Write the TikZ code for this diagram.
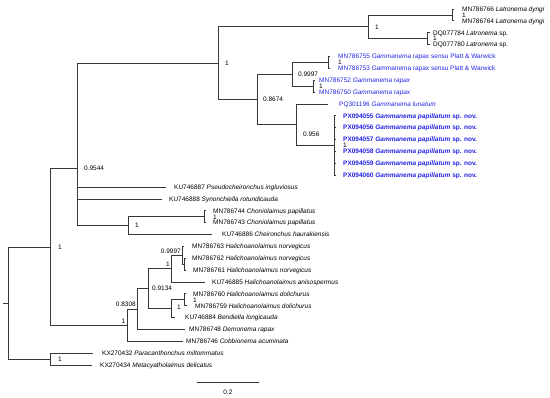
\documentclass[tikz,border=0pt]{standalone}
\usepackage{fontspec}
\setmainfont{Liberation Sans}
\definecolor{gblue}{RGB}{35,35,230}
\definecolor{branch}{RGB}{55,55,55}
\begin{document}
\begin{tikzpicture}[x=1pt,y=-1pt,
  br/.style={draw=branch, line width=0.8pt},
  lab/.style={anchor=base west, inner sep=0pt, yshift=-2.3pt, font=\fontsize{6.5}{7}\selectfont},
  blab/.style={lab, text=gblue},
  supp/.style={lab},
  suppl/.style={anchor=base east, inner sep=0pt, font=\fontsize{6.5}{7}\selectfont},
]
\useasboundingbox (0,0) rectangle (550,398);
% ---------- internal nodes ----------
\coordinate (nR) at (8,303.06);
\coordinate (nA) at (50,246.96);
\coordinate (nB) at (50,359.17);
\coordinate (nC) at (77,168.69);
\coordinate (nD) at (218,63.16);
\coordinate (nE) at (368,26.81);
\coordinate (nP1) at (452,14.94);
\coordinate (nP2) at (427,38.68);
\coordinate (nF) at (257,99.51);
\coordinate (nG) at (292,74.29);
\coordinate (nP3) at (328,62.42);
\coordinate (nP4) at (313,86.16);
\coordinate (nH) at (296,124.73);
\coordinate (nQ) at (334,145.5);
\coordinate (nI) at (128,225.63);
\coordinate (nP5) at (204,216.73);
\coordinate (nJ) at (127,325.23);
\coordinate (nK) at (137,309.09);
\coordinate (nL) at (148,288.69);
\coordinate (nM) at (171,268.66);
\coordinate (nO) at (182,255.3);
\coordinate (nO2) at (184.5,264.2);
\coordinate (nN) at (171,308.71);
\coordinate (nP) at (184,299.8);
% ---------- tips ----------
\coordinate (t0) at (454,9.0);
\coordinate (t1) at (454,20.87);
\coordinate (t2) at (429.5,32.74);
\coordinate (t3) at (429.5,44.61);
\coordinate (t4) at (330,56.48);
\coordinate (t5) at (330,68.35);
\coordinate (t6) at (315,80.22);
\coordinate (t7) at (315,92.09);
\coordinate (t8) at (328,103.96);
\coordinate (t9) at (335.5,115.83);
\coordinate (t10) at (335.5,127.7);
\coordinate (t11) at (335.5,139.57);
\coordinate (t12) at (335.5,151.44);
\coordinate (t13) at (335.5,163.31);
\coordinate (t14) at (335.5,175.18);
\coordinate (t15) at (166,187.05);
\coordinate (t16) at (162,198.92);
\coordinate (t17) at (206,210.79);
\coordinate (t18) at (206,222.66);
\coordinate (t19) at (212,234.53);
\coordinate (t20) at (184,246.4);
\coordinate (t21) at (186,258.27);
\coordinate (t22) at (186,270.14);
\coordinate (t23) at (205,282.01);
\coordinate (t24) at (186,293.88);
\coordinate (t25) at (187,305.75);
\coordinate (t26) at (175,317.62);
\coordinate (t27) at (185,329.49);
\coordinate (t28) at (183,341.36);
\coordinate (t29) at (93,353.23);
\coordinate (t30) at (92,365.1);
% ---------- branches ----------
\draw[br] (3,303.06) -- (nR);
\draw[br] (nR) |- (nA);
\draw[br] (nR) |- (nB);
\draw[br] (nB) |- (t29);
\draw[br] (nB) |- (t30);
\draw[br] (nA) |- (nC);
\draw[br] (nA) |- (nJ);
\draw[br] (nC) |- (nD);
\draw[br] (nC) |- (t15);
\draw[br] (nC) |- (t16);
\draw[br] (nC) |- (nI);
\draw[br] (nD) |- (nE);
\draw[br] (nD) |- (nF);
\draw[br] (nE) |- (nP1);
\draw[br] (nE) |- (nP2);
\draw[br] (nP1) |- (t0);
\draw[br] (nP1) |- (t1);
\draw[br] (nP2) |- (t2);
\draw[br] (nP2) |- (t3);
\draw[br] (nF) |- (nG);
\draw[br] (nF) |- (nH);
\draw[br] (nG) |- (nP3);
\draw[br] (nG) |- (nP4);
\draw[br] (nP3) |- (t4);
\draw[br] (nP3) |- (t5);
\draw[br] (nP4) |- (t6);
\draw[br] (nP4) |- (t7);
\draw[br] (nH) |- (t8);
\draw[br] (nH) |- (nQ);
\foreach \i in {9,...,14} {\draw[br] (nQ) |- (t\i);}
\draw[br] (nI) |- (nP5);
\draw[br] (nI) |- (t19);
\draw[br] (nP5) |- (t17);
\draw[br] (nP5) |- (t18);
\draw[br] (nJ) |- (nK);
\draw[br] (nJ) |- (t28);
\draw[br] (nK) |- (nL);
\draw[br] (nK) |- (t27);
\draw[br] (nL) |- (nM);
\draw[br] (nL) |- (nN);
\draw[br] (nM) |- (nO);
\draw[br] (nM) |- (t23);
\draw[br] (nO) |- (t20);
\draw[br] (nO) |- (nO2);
\draw[br] (nO2) |- (t21);
\draw[br] (nO2) |- (t22);
\draw[br] (nN) |- (nP);
\draw[br] (nN) |- (t26);
\draw[br] (nP) |- (t24);
\draw[br] (nP) |- (t25);
% ---------- leaf labels ----------
\node[lab] (l0) at (462,9.0) {MN786766 \textit{Latronema dyngi}};
\node[lab] (l1) at (462,20.87) {MN786764 \textit{Latronema dyngi}};
\node[lab] (l2) at (433,32.74) {DQ077784 \textit{Latronema} sp.};
\node[lab] (l3) at (433,44.61) {DQ077780 \textit{Latronema} sp.};
\node[blab] (l4) at (338,56.48) {MN786755 \textit{Gammanema rapax} sensu Platt \& Warwick};
\node[blab] (l5) at (338,68.35) {MN786753 Gammanema rapax sensu Platt \& Warwick};
\node[blab] (l6) at (319,80.22) {MN786752 \textit{Gammanema rapax}};
\node[blab] (l7) at (319,92.09) {MN786750 \textit{Gammanema rapax}};
\node[blab] (l8) at (339,103.96) {PQ301196 \textit{Gammanema lunatum}};
\node[blab] (l9) at (343,115.83) {\textbf{PX094055 \textit{Gammanema papillatum} sp. nov.}};
\node[blab] (l10) at (343,127.7) {\textbf{PX094056 \textit{Gammanema papillatum} sp. nov.}};
\node[blab] (l11) at (343,139.57) {\textbf{PX094057 \textit{Gammanema papillatum} sp. nov.}};
\node[blab] (l12) at (343,151.44) {\textbf{PX094058 \textit{Gammanema papillatum} sp. nov.}};
\node[blab] (l13) at (343,163.31) {\textbf{PX094059 \textit{Gammanema papillatum} sp. nov.}};
\node[blab] (l14) at (343,175.18) {\textbf{PX094060 \textit{Gammanema papillatum} sp. nov.}};
\node[lab] (l15) at (174,187.05) {KU746887 \textit{Pseudocheironchus ingluviosus}};
\node[lab] (l16) at (169,198.92) {KU746888 \textit{Synonchiella rotundicauda}};
\node[lab] (l17) at (213,210.79) {MN786744 \textit{Choniolaimus papillatus}};
\node[lab] (l18) at (213,222.66) {MN786743 \textit{Choniolaimus papillatus}};
\node[lab] (l19) at (222,234.53) {KU746886 \textit{Cheironchus haurakiensis}};
\node[lab] (l20) at (192,246.4) {MN786763 \textit{Halichoanolaimus norvegicus}};
\node[lab] (l21) at (192,258.27) {MN786762 \textit{Halichoanolaimus norvegicus}};
\node[lab] (l22) at (193,270.14) {MN786761 \textit{Halichoanolaimus norvegicus}};
\node[lab] (l23) at (212,282.01) {KU746885 \textit{Halichoanolaimus anisospermus}};
\node[lab] (l24) at (193,293.88) {MN786760 \textit{Halichoanolaimus dolichurus}};
\node[lab] (l25) at (195,305.75) {MN786759 \textit{Halichoanolaimus dolichurus}};
\node[lab] (l26) at (185,317.62) {KU746884 \textit{Bendiella longicauda}};
\node[lab] (l27) at (189,329.49) {MN786748 \textit{Demonema rapax}};
\node[lab] (l28) at (186,341.36) {MN786746 \textit{Cobbionema acuminata}};
\node[lab] (l29) at (102,353.23) {KX270432 \textit{Paracanthonchus miltommatus}};
\node[lab] (l30) at (100,365.1) {KX270434 \textit{Metacyatholaimus delicatus}};
% ---------- support values ----------
\node[supp] (sP1) at (462,14.94) {1};
\node[supp] (sP2) at (433,38.68) {1};
\node[supp] (sE) at (375,26.81) {1};
\node[supp] (sD) at (225,63.16) {1};
\node[supp] (sP3) at (338,62.42) {1};
\node[supp] (sG) at (298,74.29) {0.9997};
\node[supp] (sP4) at (319,86.16) {1};
\node[supp] (sF) at (263,99.51) {0.8674};
\node[supp] (sH) at (303,134) {0.956};
\node[supp] (sQ) at (343,145.5) {1};
\node[supp] (sC) at (84,168.69) {0.9544};
\node[supp] (sP5) at (213,216.73) {1};
\node[supp] (sI) at (135,225.63) {1};
\node[supp] (sA) at (58,246.96) {1};
\node[suppl] (sO) at (181,253.5) {0.9997};
\node[suppl] (sM) at (170,266.5) {1};
\node[supp] (sL) at (152,288.3) {0.9134};
\node[supp] (sP) at (193,299.8) {1};
\node[supp] (sN) at (177,307) {1};
\node[suppl] (sK) at (136,307) {0.8308};
\node[suppl] (sJ) at (125.5,323.3) {1};
\node[supp] (sB) at (58,359.17) {1};
% ---------- scale bar ----------
\coordinate (sb1) at (197,382);
\coordinate (sb2) at (259,382);
\draw[br] (sb1) -- (sb2);
\node[inner sep=0pt, font=\fontsize{6.5}{7}\selectfont] (sbl) at (228,392) {0.2};
\end{tikzpicture}
\end{document}
